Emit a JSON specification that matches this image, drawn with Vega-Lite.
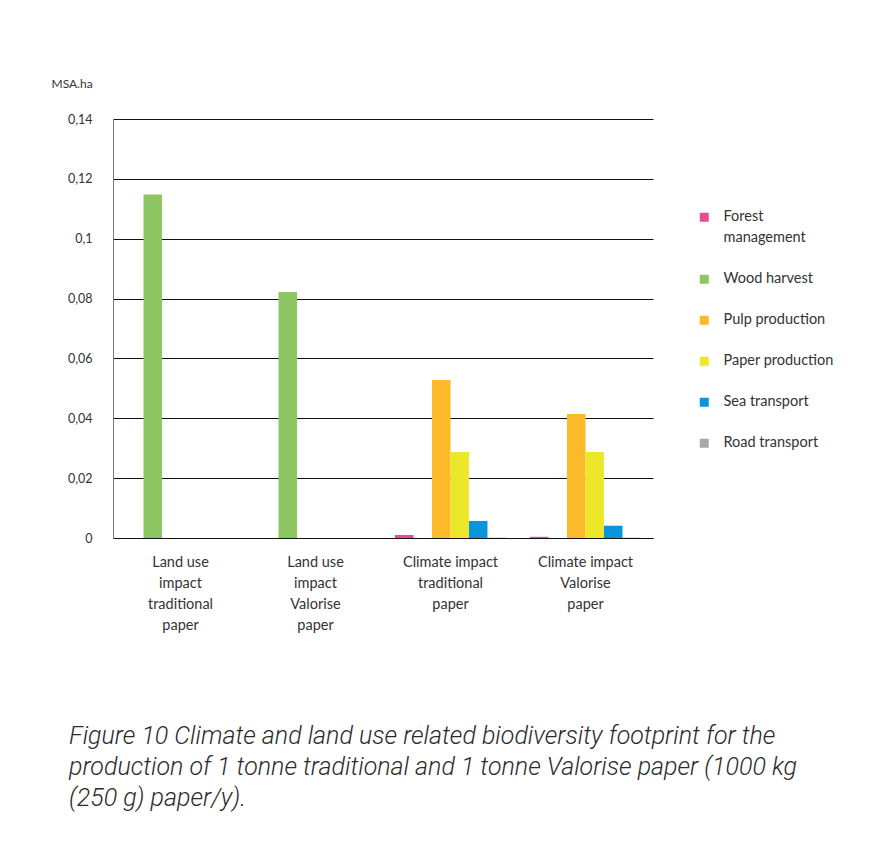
{
  "$schema": "https://vega.github.io/schema/vega-lite/v6.json",
  "autosize": {"type": "none"},
  "padding": {"left": 113, "top": 119, "right": 241, "bottom": 311},
  "width": 540,
  "height": 419,
  "background": "white",
  "title": {
    "text": ["Figure 10 Climate and land use related biodiversity footprint for the", "production of 1 tonne traditional and 1 tonne Valorise paper (1000 kg", "(250 g) paper/y)."],
    "orient": "bottom",
    "anchor": "start",
    "frame": "group",
    "dx": -44,
    "offset": 92,
    "baseline": "top",
    "font": "Roboto",
    "fontStyle": "italic",
    "fontWeight": 300,
    "fontSize": 25,
    "lineHeight": 31,
    "color": "#2b2b2b"
  },
  "data": {
    "values": [
      {"category": "Land use|impact|traditional|paper", "series": "Forest management", "value": 0},
      {"category": "Land use|impact|traditional|paper", "series": "Wood harvest", "value": 0.1148},
      {"category": "Land use|impact|traditional|paper", "series": "Pulp production", "value": 0},
      {"category": "Land use|impact|traditional|paper", "series": "Paper production", "value": 0},
      {"category": "Land use|impact|traditional|paper", "series": "Sea transport", "value": 0},
      {"category": "Land use|impact|traditional|paper", "series": "Road transport", "value": 0},
      {"category": "Land use|impact|Valorise|paper", "series": "Forest management", "value": 0},
      {"category": "Land use|impact|Valorise|paper", "series": "Wood harvest", "value": 0.0822},
      {"category": "Land use|impact|Valorise|paper", "series": "Pulp production", "value": 0},
      {"category": "Land use|impact|Valorise|paper", "series": "Paper production", "value": 0},
      {"category": "Land use|impact|Valorise|paper", "series": "Sea transport", "value": 0},
      {"category": "Land use|impact|Valorise|paper", "series": "Road transport", "value": 0},
      {"category": "Climate impact|traditional|paper", "series": "Forest management", "value": 0.001},
      {"category": "Climate impact|traditional|paper", "series": "Wood harvest", "value": 0},
      {"category": "Climate impact|traditional|paper", "series": "Pulp production", "value": 0.0528},
      {"category": "Climate impact|traditional|paper", "series": "Paper production", "value": 0.0287},
      {"category": "Climate impact|traditional|paper", "series": "Sea transport", "value": 0.0057},
      {"category": "Climate impact|traditional|paper", "series": "Road transport", "value": 0.0001},
      {"category": "Climate impact|Valorise|paper", "series": "Forest management", "value": 0.0004},
      {"category": "Climate impact|Valorise|paper", "series": "Wood harvest", "value": 0},
      {"category": "Climate impact|Valorise|paper", "series": "Pulp production", "value": 0.0414},
      {"category": "Climate impact|Valorise|paper", "series": "Paper production", "value": 0.0287},
      {"category": "Climate impact|Valorise|paper", "series": "Sea transport", "value": 0.0041},
      {"category": "Climate impact|Valorise|paper", "series": "Road transport", "value": 0.0001}
    ]
  },
  "mark": {"type": "bar", "width": {"band": 1}},
  "encoding": {
    "x": {
      "field": "category",
      "type": "nominal",
      "sort": null,
      "scale": {"paddingInner": 0.178, "paddingOuter": 0.089},
      "axis": {
        "title": null,
        "labelAngle": 0,
        "labelExpr": "split(datum.label, '|')",
        "labelFont": "Lato",
        "labelFontSize": 14.5,
        "labelColor": "#333333",
        "labelLineHeight": 21,
        "labelPadding": 17,
        "labelLimit": 200,
        "ticks": false,
        "domainColor": "#111111",
        "domainWidth": 1
      }
    },
    "xOffset": {
      "field": "series",
      "type": "nominal",
      "sort": ["Forest management", "Wood harvest", "Pulp production", "Paper production", "Sea transport", "Road transport"],
      "scale": {"paddingInner": 0, "paddingOuter": 0}
    },
    "y": {
      "field": "value",
      "type": "quantitative",
      "scale": {"domain": [0, 0.14], "nice": false},
      "axis": {
        "title": "MSA.ha",
        "titleAngle": 0,
        "titleAlign": "left",
        "titleBaseline": "middle",
        "titleX": -62,
        "titleY": -36,
        "titleFont": "Lato",
        "titleFontSize": 12,
        "titleFontWeight": "normal",
        "titleColor": "#333333",
        "values": [0, 0.02, 0.04, 0.06, 0.08, 0.1, 0.12, 0.14],
        "labelExpr": "replace(format(datum.value, '~g'), '.', ',')",
        "labelFont": "Lato",
        "labelFontSize": 12.5,
        "labelColor": "#333333",
        "labelPadding": 21,
        "ticks": false,
        "domainColor": "#7a7a7a",
        "domainWidth": 1,
        "grid": true,
        "gridColor": "#111111",
        "gridWidth": 1
      }
    },
    "color": {
      "field": "series",
      "type": "nominal",
      "sort": ["Forest management", "Wood harvest", "Pulp production", "Paper production", "Sea transport", "Road transport"],
      "scale": {
        "domain": ["Forest management", "Wood harvest", "Pulp production", "Paper production", "Sea transport", "Road transport"],
        "range": ["#E84A93", "#8DC763", "#FDB92C", "#EDE72A", "#0994DB", "#A6A8AB"]
      },
      "legend": {
        "title": null,
        "orient": "none",
        "legendX": 584,
        "legendY": 91,
        "symbolType": "square",
        "symbolSize": 81,
        "symbolStrokeWidth": 0,
        "labelFont": "Lato",
        "labelFontSize": 14.5,
        "labelColor": "#333333",
        "labelOffset": 12,
        "labelLimit": 200,
        "labelExpr": "datum.label == 'Forest management' ? ['Forest', 'management'] : datum.label",
        "rowPadding": 26
      }
    }
  },
  "config": {
    "view": {"stroke": null},
    "style": {"guide-label": {"lineHeight": 21}}
  }
}
